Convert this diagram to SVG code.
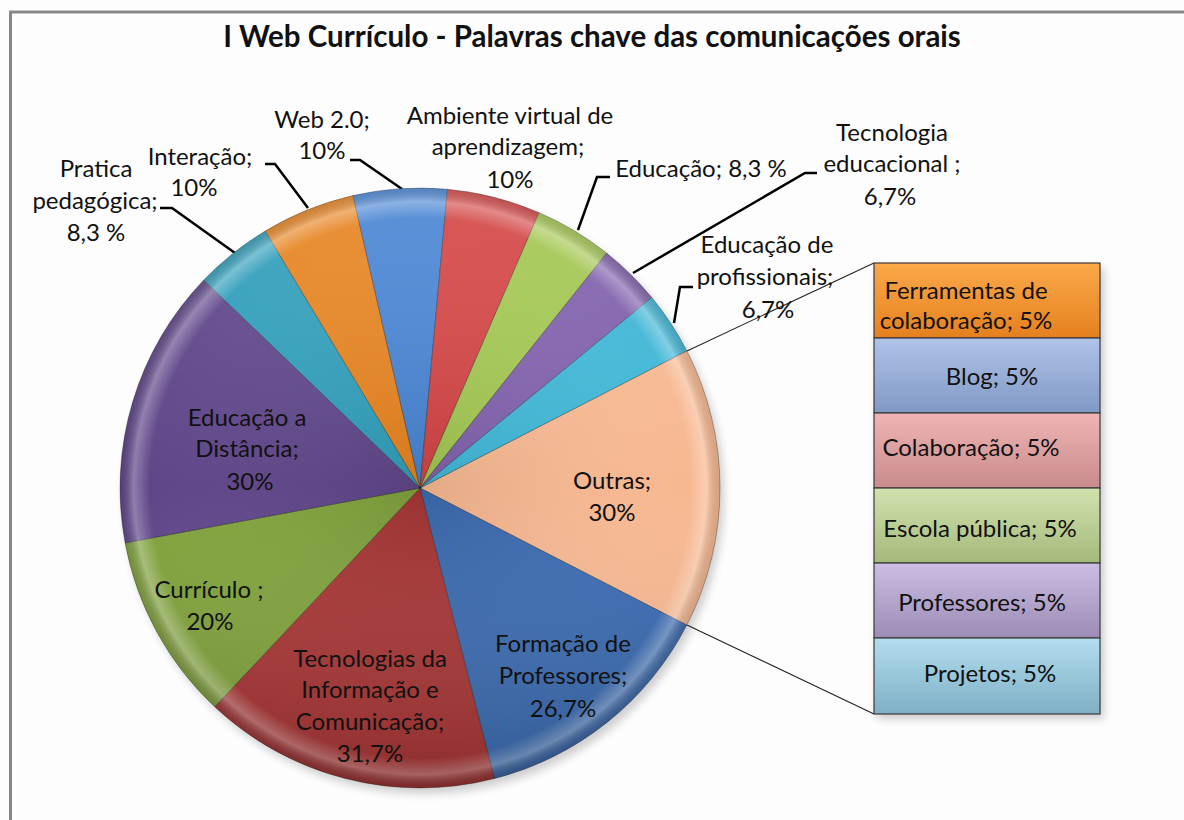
<svg xmlns="http://www.w3.org/2000/svg" width="1184" height="820" viewBox="0 0 1184 820">
<defs>
<style>
.t{font-family:Lato,"Liberation Sans",sans-serif;font-size:24px;fill:#111;text-anchor:middle}
.ttl{font-family:Lato,"Liberation Sans",sans-serif;font-size:29.5px;font-weight:bold;fill:#111;text-anchor:middle}
.lead{fill:none;stroke:#000;stroke-width:2.5}
.thin{fill:none;stroke:#222;stroke-width:1.1}
.sl{stroke:rgba(0,0,0,0.28);stroke-width:1}
.box{stroke:#3a3a3a;stroke-width:1.2}
</style>
<radialGradient id="rim" gradientUnits="userSpaceOnUse" cx="420" cy="488" r="300">
<stop offset="0" stop-color="#000" stop-opacity="0.08"/>
<stop offset="0.9" stop-color="#fff" stop-opacity="0"/>
<stop offset="0.955" stop-color="#fff" stop-opacity="0.3"/>
<stop offset="1" stop-color="#000" stop-opacity="0.12"/>
</radialGradient>
<linearGradient id="shade" x1="0" y1="0" x2="0" y2="1">
<stop offset="0" stop-color="#fff" stop-opacity="0.12"/>
<stop offset="0.5" stop-color="#fff" stop-opacity="0"/>
<stop offset="1" stop-color="#000" stop-opacity="0.16"/>
</linearGradient>
<linearGradient id="gOr" x1="0" y1="0" x2="0" y2="1"><stop offset="0" stop-color="#FBA94B"/><stop offset="1" stop-color="#E5801E"/></linearGradient>
<linearGradient id="gBl" x1="0" y1="0" x2="0" y2="1"><stop offset="0" stop-color="#B0C4EA"/><stop offset="1" stop-color="#8098C4"/></linearGradient>
<linearGradient id="gPk" x1="0" y1="0" x2="0" y2="1"><stop offset="0" stop-color="#F0B4B4"/><stop offset="1" stop-color="#C98B8B"/></linearGradient>
<linearGradient id="gGr" x1="0" y1="0" x2="0" y2="1"><stop offset="0" stop-color="#D2E2AE"/><stop offset="1" stop-color="#A4B97B"/></linearGradient>
<linearGradient id="gPu" x1="0" y1="0" x2="0" y2="1"><stop offset="0" stop-color="#CBBDE2"/><stop offset="1" stop-color="#9C8CB6"/></linearGradient>
<linearGradient id="gCy" x1="0" y1="0" x2="0" y2="1"><stop offset="0" stop-color="#B2DDEE"/><stop offset="1" stop-color="#7FB0C6"/></linearGradient>
<filter id="sh" x="-10%" y="-10%" width="130%" height="130%"><feGaussianBlur stdDeviation="4"/></filter>
</defs>
<rect x="0" y="0" width="1184" height="820" fill="#fdfdfd"/>
<rect x="10.5" y="12" width="1200" height="830" fill="none" stroke="#878787" stroke-width="3"/>
<text class="ttl" x="592" y="47">I Web Currículo - Palavras chave das comunicações orais</text>

<ellipse cx="424" cy="494" rx="300" ry="300" fill="#000" opacity="0.18" filter="url(#sh)"/>
<rect x="877" y="268" width="227" height="451" fill="#000" opacity="0.2" filter="url(#sh)"/>

<g id="connectors">
<polyline class="lead" points="160,208 172,208 235,253"/>
<polyline class="lead" points="265,164 275,164 308,208"/>
<polyline class="lead" points="350,160 360,160 402,189"/>
<polyline class="lead" points="578,230 597,177 610,177"/>
<polyline class="lead" points="633,273 805,173 817,173"/>
<polyline class="lead" points="674,323 680,287 693,287"/>
<line class="thin" x1="687" y1="351" x2="874" y2="263"/>
<line class="thin" x1="687" y1="625" x2="874" y2="714"/>
</g>

<g id="slice-outras"><path class="sl" fill="#F7B891" d="M420,488 L686.8,350.8 A300,300 0 0 1 686.8,625.1 Z"/></g>
<g id="slice-formacao"><path class="sl" fill="#3B6BB0" d="M420,488 L686.8,625.1 A300,300 0 0 1 494.3,778.6 Z"/></g>
<g id="slice-tic"><path class="sl" fill="#A83535" d="M420,488 L494.3,778.6 A300,300 0 0 1 214.7,706.8 Z"/></g>
<g id="slice-curriculo"><path class="sl" fill="#80A23C" d="M420,488 L214.7,706.8 A300,300 0 0 1 125.1,542.9 Z"/></g>
<g id="slice-ead"><path class="sl" fill="#5F4689" d="M420,488 L125.1,542.9 A300,300 0 0 1 203.8,280.0 Z"/></g>
<g id="slice-pratica"><path class="sl" fill="#2F9DBA" d="M420,488 L203.8,280.0 A300,300 0 0 1 265.3,231.0 Z"/></g>
<g id="slice-interacao"><path class="sl" fill="#E6821E" d="M420,488 L265.3,231.0 A300,300 0 0 1 353.0,195.6 Z"/></g>
<g id="slice-web"><path class="sl" fill="#4683D2" d="M420,488 L353.0,195.6 A300,300 0 0 1 447.5,189.3 Z"/></g>
<g id="slice-ava"><path class="sl" fill="#D34343" d="M420,488 L447.5,189.3 A300,300 0 0 1 539.1,212.7 Z"/></g>
<g id="slice-educacao"><path class="sl" fill="#A2C650" d="M420,488 L539.1,212.7 A300,300 0 0 1 606.6,253.1 Z"/></g>
<g id="slice-tec"><path class="sl" fill="#8060AC" d="M420,488 L606.6,253.1 A300,300 0 0 1 651.8,297.6 Z"/></g>
<g id="slice-edprof"><path class="sl" fill="#3FB6D6" d="M420,488 L651.8,297.6 A300,300 0 0 1 686.8,350.8 Z"/></g>
<circle cx="420" cy="488" r="300" fill="url(#rim)"/>
<circle cx="420" cy="488" r="300" fill="url(#shade)"/>

<g id="labels">
<text class="t" x="96" y="177">Pratica</text>
<text class="t" x="95" y="209">pedagógica;</text>
<text class="t" x="96" y="241">8,3 %</text>
<text class="t" x="200" y="165">Interação;</text>
<text class="t" x="194" y="196">10%</text>
<text class="t" x="322" y="128">Web 2.0;</text>
<text class="t" x="322" y="159">10%</text>
<text class="t" x="510" y="124">Ambiente virtual de</text>
<text class="t" x="508" y="155">aprendizagem;</text>
<text class="t" x="510" y="188">10%</text>
<text class="t" x="701" y="177">Educação; 8,3 %</text>
<text class="t" x="892" y="141">Tecnologia</text>
<text class="t" x="892" y="172">educacional ;</text>
<text class="t" x="890" y="205">6,7%</text>
<text class="t" x="767" y="253">Educação de</text>
<text class="t" x="765" y="285">profissionais;</text>
<text class="t" x="768" y="318">6,7%</text>
<text class="t" x="612" y="489">Outras;</text>
<text class="t" x="612" y="521">30%</text>
<text class="t" x="563" y="652">Formação de</text>
<text class="t" x="563" y="684">Professores;</text>
<text class="t" x="563" y="717">26,7%</text>
<text class="t" x="370" y="667">Tecnologias da</text>
<text class="t" x="370" y="698">Informação e</text>
<text class="t" x="370" y="730">Comunicação;</text>
<text class="t" x="370" y="762">31,7%</text>
<text class="t" x="209" y="598">Currículo ;</text>
<text class="t" x="210" y="630">20%</text>
<text class="t" x="247" y="426">Educação a</text>
<text class="t" x="247" y="457">Distância;</text>
<text class="t" x="250" y="490">30%</text>
</g>

<g id="box-ferramentas"><rect class="box" x="874" y="263" width="226" height="75" fill="url(#gOr)"/>
<text class="t" x="966" y="299">Ferramentas de</text><text class="t" x="966" y="329">colaboração; 5%</text></g>
<g id="box-blog"><rect class="box" x="874" y="338" width="226" height="75" fill="url(#gBl)"/>
<text class="t" x="992" y="385">Blog; 5%</text></g>
<g id="box-colaboracao"><rect class="box" x="874" y="413" width="226" height="75" fill="url(#gPk)"/>
<text class="t" x="971" y="456">Colaboração; 5%</text></g>
<g id="box-escola"><rect class="box" x="874" y="488" width="226" height="75" fill="url(#gGr)"/>
<text class="t" x="980" y="537">Escola pública; 5%</text></g>
<g id="box-professores"><rect class="box" x="874" y="563" width="226" height="75" fill="url(#gPu)"/>
<text class="t" x="982" y="611">Professores; 5%</text></g>
<g id="box-projetos"><rect class="box" x="874" y="638" width="226" height="76" fill="url(#gCy)"/>
<text class="t" x="990" y="682">Projetos; 5%</text></g>
</svg>
